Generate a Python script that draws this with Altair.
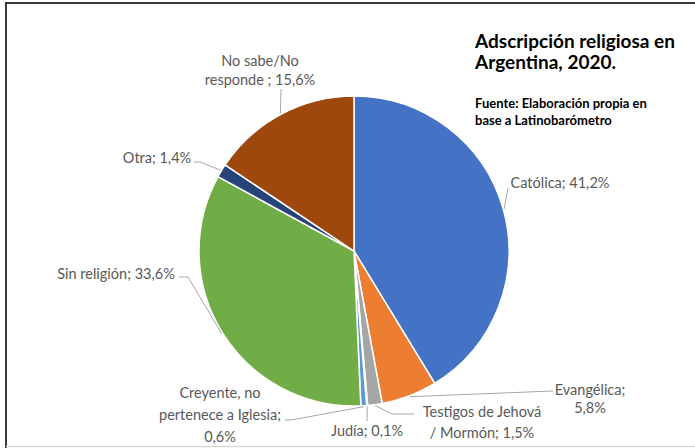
import math

import altair as alt
import pandas as pd

# Religious affiliation in Argentina, 2020 (percent of respondents)
categories = [
    "Católica",
    "Evangélica",
    "Testigos de Jehová / Mormón",
    "Judía",
    "Creyente, no pertenece a Iglesia",
    "Sin religión",
    "Otra",
    "No sabe/No responde",
]
shares = [41.2, 5.8, 1.5, 0.1, 0.6, 33.6, 1.4, 15.6]
colors = ["#4472C4", "#ED7D31", "#A5A5A5", "#FFC000", "#5B9BD5", "#70AD47", "#264478", "#9E480E"]

# Label text per slice, one entry per printed line; {v} is the slice value
label_templates = [
    ["Católica; {v}"],
    ["Evangélica;", "{v}"],
    ["Testigos de Jehová", "/ Mormón; {v}"],
    ["Judía; {v}"],
    ["Creyente, no", "pertenece a Iglesia;", "{v}"],
    ["Sin religión; {v}"],
    ["Otra; {v}"],
    ["No sabe/No", "responde ; {v}"],
]

title_lines = ["Adscripción religiosa en", "Argentina, 2020."]
source_lines = ["Fuente: Elaboración propia en", "base a Latinobarómetro"]

# ---- layout (pixels) ----
W, H = 695, 448
CX, CY, R = 354, 251, 155
LABEL_FONT = "Lato"
TEXT_GREY = "#595959"
LEADER_GREY = "#A6A6A6"

# label block: centre x, first line centre y, line height
label_pos = [
    (560, 184, 19),
    (590, 391, 18),
    (482, 413, 21),
    (367, 432, 19),
    (220, 394, 22),
    (116, 275, 19),
    (157, 159, 19),
    (260, 62, 19),
]
# leader path from the slice edge to the label
leader_path = [
    [(508, 188)],
    [(553, 391)],
    [(392, 414), (414, 414)],
    [(367, 421)],
    [(291, 420), (285, 420)],
    [(188, 277), (179, 277)],
    [(200, 162), (194, 162)],
    [(281, 89)],
]


def fmt_pct(v):
    return f"{v:.1f}".replace(".", ",") + "%"


slices = pd.DataFrame({"categoria": categories, "valor": shares, "orden": range(len(categories))})

# slice mid-angles (clockwise from 12 o'clock) for the leader starting points
total = sum(shares)
leader_rows, text_rows = [], []
cum = 0.0
for i, v in enumerate(shares):
    a = 2 * math.pi * (cum + v / 2) / total
    cum += v
    sx, sy = CX + (R + 1) * math.sin(a), CY - (R + 1) * math.cos(a)
    pts = [(sx, sy)] + leader_path[i]
    for k, (px_, py_) in enumerate(pts):
        leader_rows.append({"lid": i, "seq": k, "lx": px_, "ly": py_})
    x0, y0, lh = label_pos[i]
    for j, t in enumerate(label_templates[i]):
        text_rows.append({"tx": x0, "ty": y0 + j * lh, "linea": t.format(v=fmt_pct(v))})

leaders = pd.DataFrame(leader_rows)
texts = pd.DataFrame(text_rows)

px = lambda f: alt.X(f, scale=None, axis=None)
py = lambda f: alt.Y(f, scale=None, axis=None)

pie = (
    alt.Chart(slices)
    .mark_arc(radius=R, stroke="white", strokeWidth=1.5)
    .encode(
        theta=alt.Theta("valor:Q", stack=True),
        order=alt.Order("orden:Q"),
        color=alt.Color("categoria:N", scale=alt.Scale(domain=categories, range=colors), legend=None),
        x=alt.value(CX),
        y=alt.value(CY),
    )
)

leader_lines = (
    alt.Chart(leaders)
    .mark_line(color=LEADER_GREY, strokeWidth=1)
    .encode(x=px("lx:Q"), y=py("ly:Q"), detail="lid:N", order="seq:Q")
)

labels = (
    alt.Chart(texts)
    .mark_text(font=LABEL_FONT, fontSize=14.5, color=TEXT_GREY, align="center", baseline="middle")
    .encode(x=px("tx:Q"), y=py("ty:Q"), text="linea:N")
)

title_df = pd.DataFrame({"t": title_lines, "y": [42, 63]})
title = (
    alt.Chart(title_df)
    .mark_text(font=LABEL_FONT, fontSize=19, fontWeight="bold", color="#000000", align="left", baseline="middle")
    .encode(x=alt.value(475), y=py("y:Q"), text="t:N")
)

source_df = pd.DataFrame({"t": source_lines, "y": [104, 121]})
source = (
    alt.Chart(source_df)
    .mark_text(font=LABEL_FONT, fontSize=13, fontWeight="bold", color="#000000", align="left", baseline="middle")
    .encode(x=alt.value(475), y=py("y:Q"), text="t:N")
)

# frame around the figure
frame_top = alt.Chart(pd.DataFrame({"k": [0]})).mark_rule(color="#3a3a3a", strokeWidth=2).encode(
    x=alt.value(5), x2=alt.value(W), y=alt.value(3)
)
frame_left = alt.Chart(pd.DataFrame({"k": [0]})).mark_rule(color="#3a3a3a", strokeWidth=2).encode(
    x=alt.value(6), y=alt.value(3), y2=alt.value(H)
)
frame_bottom = alt.Chart(pd.DataFrame({"k": [0]})).mark_rule(color="#d9d9d9", strokeWidth=1.5).encode(
    x=alt.value(6), x2=alt.value(W), y=alt.value(446.5)
)

chart = (
    alt.layer(pie, leader_lines, labels, title, source, frame_top, frame_left, frame_bottom)
    .properties(width=W, height=H, padding=0, autosize="none", background="white")
    .configure_view(stroke=None)
)

chart.save("out.html", embed_options={"renderer": "svg", "actions": False})
